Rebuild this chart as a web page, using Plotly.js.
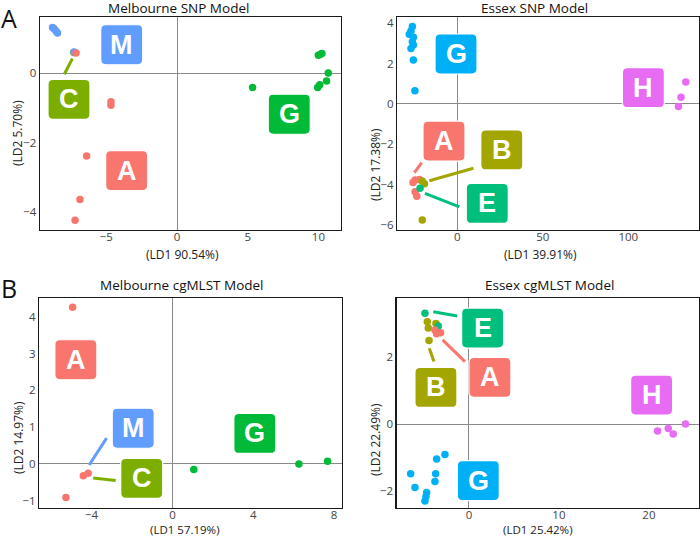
<!DOCTYPE html>
<html>
<head>
<meta charset="utf-8">
<script src="https://cdn.plot.ly/plotly-3.0.1.min.js"></script>
<style>html,body{margin:0;padding:0;background:#fff;}#chart{width:700px;height:538px;}</style>
</head>
<body>
<div id="chart"></div>
<script>
// ---------- colours ----------
const colA = '#F8766D', colB = '#A3A500', colC = '#7CAE00', colE = '#00BF7D';
const colGmel = '#00BA38', colGess = '#00B0F6', colH = '#E76BF3', colM = '#619CFF';

// ---------- Panel A: Melbourne SNP Model ----------
const melSnpTitle = 'Melbourne SNP Model';
const melSnpXTitle = '(LD1 90.54%)', melSnpYTitle = '(LD2 5.70%)';
const melSnpXTicks = [-5, 0, 5, 10], melSnpYTicks = [-4, -2, 0];
const melSnpC_x = [-7.3], melSnpC_y = [0.6];
const melSnpM_x = [-8.8, -8.68, -8.55, -8.45, -7.28], melSnpM_y = [1.32, 1.27, 1.21, 1.16, 0.61];
const melSnpG_x = [5.35, 10.0, 10.15, 10.25, 10.7, 10.58, 10.1, 9.95], melSnpG_y = [-0.41, 0.52, 0.55, 0.57, 0.01, -0.22, -0.33, -0.41];
const melSnpA_x = [-7.14, -4.67, -4.67, -6.39, -6.86, -7.21], melSnpA_y = [0.58, -0.82, -0.92, -2.38, -3.63, -4.23];
const melSnpLabels = ['M', 'C', 'A', 'G'];
const melSnpLabelX = [-3.91, -7.64, -3.56, 7.94], melSnpLabelY = [0.82, -0.75, -2.8, -1.18];
const melSnpSegC_x = [-7.97, -7.4], melSnpSegC_y = [-0.03, 0.42];

// ---------- Panel B: Essex SNP Model ----------
const essSnpTitle = 'Essex SNP Model';
const essSnpXTitle = '(LD1 39.91%)', essSnpYTitle = '(LD2 17.38%)';
const essSnpXTicks = [0, 50, 100], essSnpYTicks = [-6, -4, -2, 0, 2, 4];
const essSnpG_x = [-26.3, -27.1, -28.1, -25.7, -26.3, -25.7, -27.1, -25.7, -24.8], essSnpG_y = [3.84, 3.62, 3.46, 3.31, 3.09, 2.93, 2.75, 2.18, 0.66];
const essSnpH_x = [133.6, 130.8, 129.3], essSnpH_y = [1.09, 0.33, -0.13];
const essSnpA_x = [-24.7, -22.2, -25.9, -24.7, -23.7], essSnpA_y = [-3.77, -3.74, -3.9, -4.35, -4.57];
const essSnpB_x = [-19.2, -20.6, -20.5], essSnpB_y = [-3.96, -3.82, -5.76];
const essSnpE_x = [-21.8], essSnpE_y = [-4.18];
const essSnpLabels = ['G', 'H', 'A', 'B', 'E'];
const essSnpLabelX = [-0.76, 108.8, -7.8, 26, 17.5], essSnpLabelY = [2.48, 0.81, -1.84, -2.28, -4.93];
const essSnpSegA_x = [-25.1, -20.8], essSnpSegA_y = [-3.41, -2.91];
const essSnpSegB_x = [-16.4, 9.4], essSnpSegB_y = [-3.81, -3.19];
const essSnpSegE_x = [-18.9, 1.2], essSnpSegE_y = [-4.43, -5.10];

// ---------- Panel C: Melbourne cgMLST Model ----------
const melCgTitle = 'Melbourne cgMLST Model';
const melCgXTitle = '(LD1 57.19%)', melCgYTitle = '(LD2 14.97%)';
const melCgXTicks = [-4, 0, 4, 8], melCgYTicks = [-1, 0, 1, 2, 3, 4];
const melCgA_x = [-4.94, -4.41, -4.17, -5.27], melCgA_y = [4.26, -0.32, -0.25, -0.91];
const melCgG_x = [1.06, 6.26, 7.68], melCgG_y = [-0.15, 0.0, 0.07];
const melCgLabels = ['A', 'M', 'C', 'G'];
const melCgLabelX = [-4.78, -1.94, -1.52, 4.08], melCgLabelY = [2.83, 0.97, -0.39, 0.83];
const melCgSegM_x = [-4.12, -3.26], melCgSegM_y = [-0.03, 0.70];
const melCgSegC_x = [-3.92, -2.81], melCgSegC_y = [-0.38, -0.45];

// ---------- Panel D: Essex cgMLST Model ----------
const essCgTitle = 'Essex cgMLST Model';
const essCgXTitle = '(LD1 25.42%)', essCgYTitle = '(LD2 22.49%)';
const essCgXTicks = [0, 10, 20], essCgYTicks = [-2, 0, 2];
const essCgA_x = [-3.78, -3.15, -3.6], essCgA_y = [2.81, 2.73, 2.7];
const essCgB_x = [-4.63, -3.67, -4.52, -4.44], essCgB_y = [3.06, 3.01, 2.87, 2.50];
const essCgE_x = [-4.89, -3.41], essCgE_y = [3.31, 2.93];
const essCgG_x = [-2.67, -3.59, -6.48, -3.70, -3.78, -6.0, -4.7, -4.78, -4.89], essCgG_y = [-0.90, -1.04, -1.48, -1.48, -1.71, -1.89, -2.04, -2.16, -2.29];
const essCgH_x = [24.07, 22.15, 20.96, 22.7], essCgH_y = [0.01, -0.13, -0.2, -0.29];
const essCgLabels = ['E', 'A', 'B', 'H', 'G'];
const essCgLabelX = [1.52, 2.33, -3.67, 20.3, 1.04], essCgLabelY = [2.87, 1.40, 1.10, 0.87, -1.68];
const essCgSegE_x = [-3.96, -1.3], essCgSegE_y = [3.36, 3.23];
const essCgSegA_x = [-2.93, -0.44], essCgSegA_y = [2.52, 1.87];
const essCgSegB_x = [-4.41, -3.89], essCgSegB_y = [2.27, 1.87];

// ---------- build ----------
const W = 700, H = 538;
const fx = p => p / W, fy = p => 1 - p / H;
const traces = [];
function pts(x, y, color, ax) {
  traces.push({type: 'scatter', mode: 'markers', x: x, y: y, xaxis: 'x' + ax, yaxis: 'y' + ax,
    marker: {color: color, size: 7.5}, showlegend: false, hoverinfo: 'skip'});
}
function seg(x, y, color, ax) {
  traces.push({type: 'scatter', mode: 'lines', x: x, y: y, xaxis: 'x' + ax, yaxis: 'y' + ax,
    line: {color: color, width: 3}, showlegend: false, hoverinfo: 'skip'});
}
const shapes = [], annotations = [];
const rr = 'M -16,-20 L 16,-20 Q 21,-20 21,-15 L 21,15 Q 21,20 16,20 L -16,20 Q -21,20 -21,15 L -21,-15 Q -21,-20 -16,-20 Z';
function labels(names, xs, ys, colors, ax) {
  names.forEach((n, i) => {
    const xr = ax === 1 ? 'x' : 'x' + ax, yr = ax === 1 ? 'y' : 'y' + ax;
    shapes.push({type: 'path', xref: xr, yref: yr, xsizemode: 'pixel', ysizemode: 'pixel',
      xanchor: xs[i], yanchor: ys[i], path: rr, fillcolor: colors[n], line: {color: '#ffffff', width: 1.2}, layer: 'above'});
    annotations.push({xref: xr, yref: yr, x: xs[i], y: ys[i], text: n, showarrow: false,
      xanchor: 'center', yanchor: 'middle',
      font: {family: 'Liberation Sans, Arial, sans-serif', size: 27, color: '#ffffff', weight: 'bold'}});
  });
}
const colMel = {A: colA, C: colC, G: colGmel, M: colM};
const colEss = {A: colA, B: colB, E: colE, G: colGess, H: colH};

// Panel A
seg(melSnpSegC_x, melSnpSegC_y, colC, '');
pts(melSnpC_x, melSnpC_y, colC, '');
pts(melSnpM_x, melSnpM_y, colM, '');
pts(melSnpG_x, melSnpG_y, colGmel, '');
pts(melSnpA_x, melSnpA_y, colA, '');
labels(melSnpLabels, melSnpLabelX, melSnpLabelY, colMel, 1);
// Panel B
seg(essSnpSegA_x, essSnpSegA_y, colA, 2);
seg(essSnpSegB_x, essSnpSegB_y, colB, 2);
seg(essSnpSegE_x, essSnpSegE_y, colE, 2);
pts(essSnpA_x, essSnpA_y, colA, 2);
pts(essSnpB_x, essSnpB_y, colB, 2);
pts(essSnpE_x, essSnpE_y, colE, 2);
pts(essSnpG_x, essSnpG_y, colGess, 2);
pts(essSnpH_x, essSnpH_y, colH, 2);
labels(essSnpLabels, essSnpLabelX, essSnpLabelY, colEss, 2);
// Panel C
seg(melCgSegM_x, melCgSegM_y, colM, 3);
seg(melCgSegC_x, melCgSegC_y, colC, 3);
pts(melCgG_x, melCgG_y, colGmel, 3);
pts(melCgA_x, melCgA_y, colA, 3);
labels(melCgLabels, melCgLabelX, melCgLabelY, colMel, 3);
// Panel D
seg(essCgSegE_x, essCgSegE_y, colE, 4);
seg(essCgSegA_x, essCgSegA_y, colA, 4);
seg(essCgSegB_x, essCgSegB_y, colB, 4);
pts(essCgB_x, essCgB_y, colB, 4);
pts(essCgE_x, essCgE_y, colE, 4);
pts(essCgA_x, essCgA_y, colA, 4);
pts(essCgG_x, essCgG_y, colGess, 4);
pts(essCgH_x, essCgH_y, colH, 4);
labels(essCgLabels, essCgLabelX, essCgLabelY, colEss, 4);

// text annotations (titles, axis titles, panel letters)
const txtFont = {family: 'Open Sans, sans-serif', size: 13.5, color: '#111111'};
const axFont = {family: 'Open Sans, sans-serif', size: 12, color: '#222222'};
const axFontB = {family: 'Open Sans, sans-serif', size: 11.5, color: '#222222'};
function paperText(t, x, y, font, angle, yanchor) {
  annotations.push({xref: 'paper', yref: 'paper', x: fx(x), y: fy(y), text: t, showarrow: false,
    xanchor: 'center', yanchor: yanchor || 'middle', textangle: angle || 0, font: font, borderpad: 0});
}
paperText(melSnpTitle, 178, 8, txtFont);
paperText(essSnpTitle, 534, 8, txtFont);
paperText(melCgTitle, 182, 285, txtFont);
paperText(essCgTitle, 549, 285, txtFont);
paperText(melSnpXTitle, 182, 254, axFont);
paperText(essSnpXTitle, 540, 254, axFont);
paperText(melCgXTitle, 185, 538, axFontB, 0, 'bottom');
paperText(essCgXTitle, 538, 538, axFontB, 0, 'bottom');
paperText(melSnpYTitle, 18, 133, axFont, -90);
paperText(essSnpYTitle, 375, 165, axFont, -90);
paperText(melCgYTitle, 18, 438, axFont, -90);
paperText(essCgYTitle, 375, 440, axFont, -90);
const letterFont = {family: 'Open Sans, sans-serif', size: 25, color: '#111111'};
paperText('A', 9, 0, letterFont, 0, 'top');
paperText('B', 9, 270, letterFont, 0, 'top');

function axis(domain, range, ticks, anchor, isX) {
  return {domain: domain, range: range, tickvals: ticks, anchor: anchor,
    showline: true, mirror: true, linecolor: '#1a1a1a', linewidth: 1.3,
    zeroline: true, zerolinecolor: '#8a8a8a', zerolinewidth: 1,
    showgrid: false, ticks: '', fixedrange: true,
    ticklabelstandoff: isX ? -4 : 0,
    tickfont: {family: 'Open Sans, sans-serif', size: 11.5, color: '#444444'}};
}
const layout = {
  width: W, height: H, margin: {l: 0, r: 0, t: 0, b: 0},
  paper_bgcolor: '#ffffff', plot_bgcolor: '#ffffff', showlegend: false,
  xaxis:  axis([fx(40), fx(341)], [-9.69, 11.6], melSnpXTicks, 'y', true),
  yaxis:  axis([fy(230), fy(17.3)], [-4.51, 1.61], melSnpYTicks, 'x'),
  xaxis2: axis([fx(397.3), fx(699.3)], [-35.1, 141.5], essSnpXTicks, 'y2', true),
  yaxis2: axis([fy(230), fy(17.3)], [-6.25, 4.30], essSnpYTicks, 'x2'),
  xaxis3: axis([fx(39.3), fx(341.7)], [-6.59, 8.38], melCgXTicks, 'y3', true),
  yaxis3: axis([fy(508), fy(298.3)], [-1.197, 4.5], melCgYTicks, 'x3'),
  xaxis4: axis([fx(396.7), fx(699.3)], [-8.03, 25.6], essCgXTicks, 'y4', true),
  yaxis4: axis([fy(508), fy(298.3)], [-2.50, 3.76], essCgYTicks, 'x4'),
  shapes: shapes, annotations: annotations
};
Plotly.newPlot('chart', traces, layout, {displayModeBar: false, staticPlot: true});
</script>
</body>
</html>
